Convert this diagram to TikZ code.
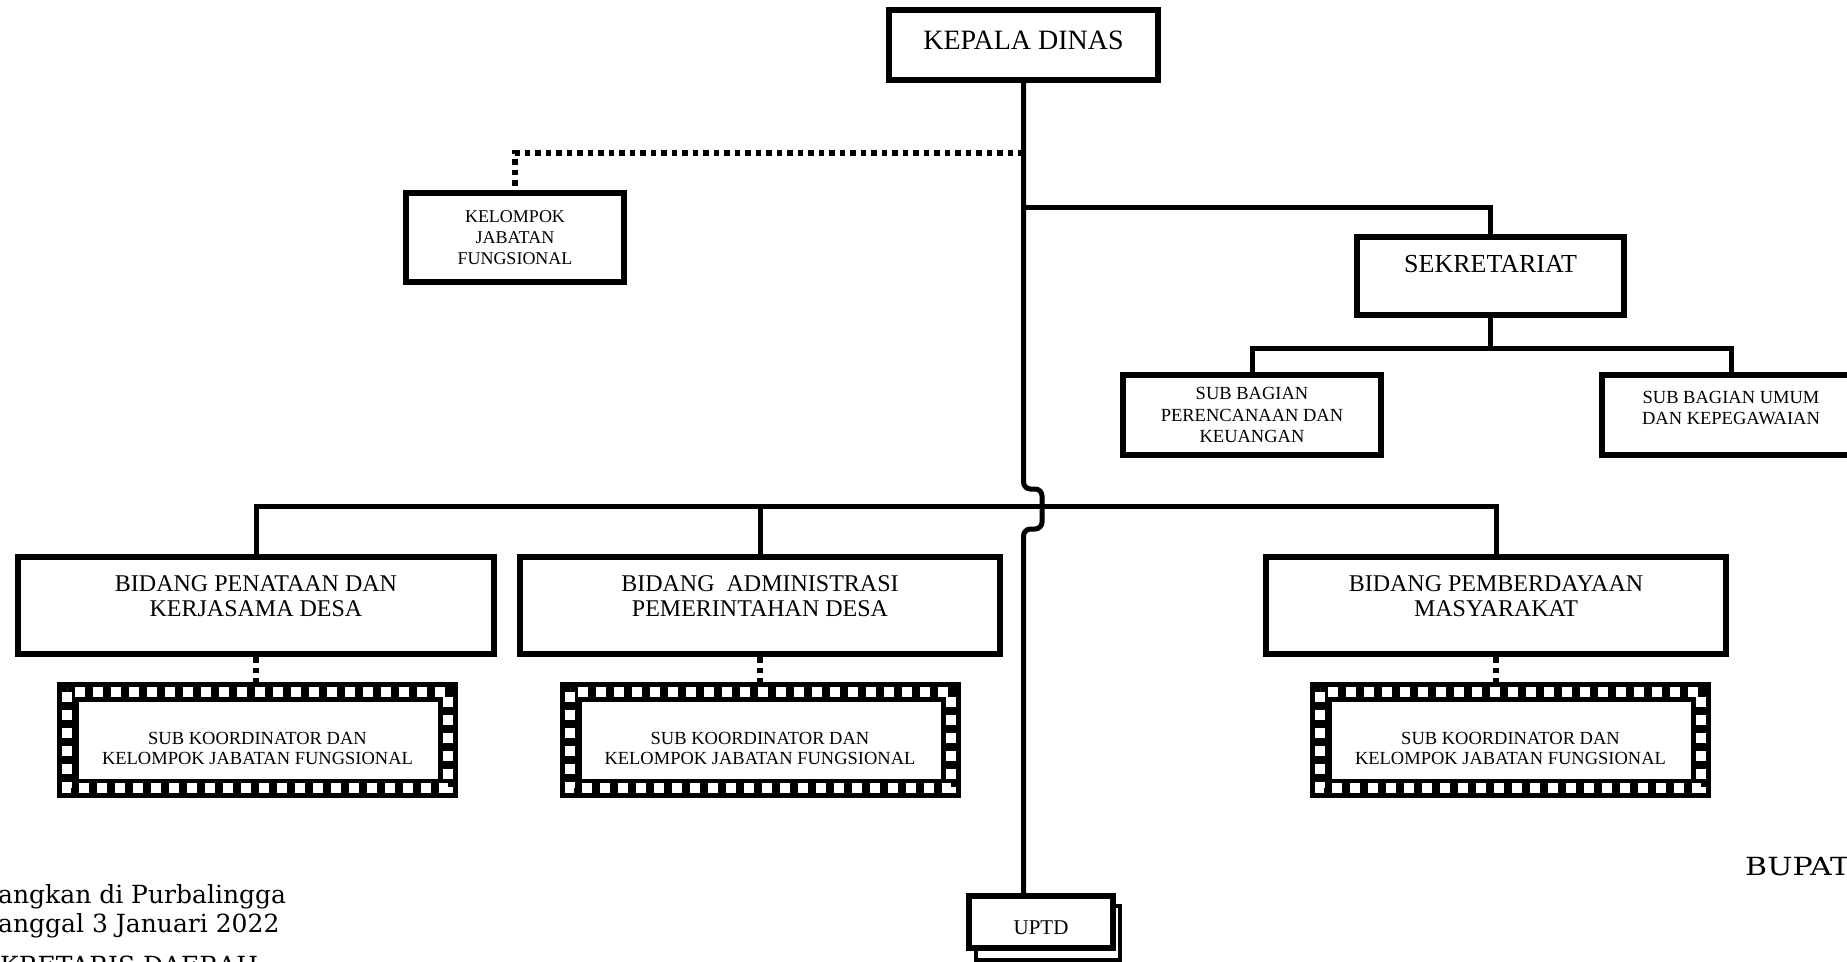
\documentclass[tikz,border=0pt]{standalone}
\usepackage{fontspec}
\setmainfont{Liberation Serif}
\newfontfamily\bkfont{DejaVu Serif}
\newfontfamily\bkwide[FakeStretch=1.2]{DejaVu Serif}
\newcommand\filmbox[4]{%
  \fill[black] ({#2-200.5},{#3-58}) rectangle ({#2+200.5},{#3+58});
  \draw[white, line width=10pt, dash pattern=on 10pt off 8pt] ({#2-190.5},{#3-48}) rectangle ({#2+190.5},{#3+48});
  \fill[white] ({#2-178.5},{#3-38}) rectangle ({#2+180.5},{#3+39});
  \node[minimum width=401pt, minimum height=116pt, inner sep=0pt] (#1) at (#2,#3) {};
  \node[filmtext] (#1t) at (#2,{#3+8}) {#4};
}
\begin{document}
\begin{tikzpicture}[x=1pt, y=-1pt,
  box/.style={draw, line width=6pt, fill=white, inner sep=0pt, align=center},
  conn/.style={line width=5pt},
  dotline/.style={line width=5.5pt, dash pattern=on 5.5pt off 5pt},
  filmtext/.style={align=center, inner sep=0pt, font=\fontsize{18.5}{20}\selectfont},
  small/.style={font=\fontsize{18.5}{21.5}\selectfont},
  mid/.style={font=\fontsize{24}{25.5}\selectfont},
  sig/.style={anchor=base west, inner sep=0pt, font=\bkfont\fontsize{25}{29}\selectfont}]
\useasboundingbox (0,0) rectangle (1847,961);
\clip (0,0) rectangle (1847,961);
\fill[white] (0,0) rectangle (1847,961);

% top
\node[box, minimum width=269pt, minimum height=70pt, text depth=10pt,
      font=\fontsize{28}{30}\selectfont] (kepala) at (1023.5,45) {KEPALA DINAS};
\node[box, minimum width=218pt, minimum height=89pt,
      font=\fontsize{18}{21}\selectfont] (kjf) at (515,237.5) {KELOMPOK\\JABATAN\\FUNGSIONAL};
\node[box, minimum width=267pt, minimum height=78pt, text depth=24pt,
      font=\fontsize{26}{28}\selectfont] (sekr) at (1490.5,276) {SEKRETARIAT};
\node[box, small, minimum width=258pt, minimum height=80pt] (sub1) at (1252,415)
      {SUB BAGIAN\\PERENCANAAN DAN\\KEUANGAN};
\node[box, small, minimum width=258pt, minimum height=80pt, text depth=14pt] (sub2) at (1731,415)
      {SUB BAGIAN UMUM\\DAN KEPEGAWAIAN};

% bidang
\node[box, mid, minimum width=476pt, minimum height=97pt, text depth=19pt] (bid1) at (256,605.5)
      {BIDANG PENATAAN DAN\\KERJASAMA DESA};
\node[box, mid, minimum width=480pt, minimum height=97pt, text depth=19pt] (bid2) at (760,605.5)
      {BIDANG \ ADMINISTRASI\\PEMERINTAHAN DESA};
\node[box, mid, minimum width=460pt, minimum height=97pt, text depth=19pt] (bid3) at (1496,605.5)
      {BIDANG PEMBERDAYAAN\\MASYARAKAT};

% film boxes
\filmbox{f1}{257.5}{740}{SUB KOORDINATOR DAN\\KELOMPOK JABATAN FUNGSIONAL}
\filmbox{f2}{760}{740}{SUB KOORDINATOR DAN\\KELOMPOK JABATAN FUNGSIONAL}
\filmbox{f3}{1510.5}{740}{SUB KOORDINATOR DAN\\KELOMPOK JABATAN FUNGSIONAL}

% UPTD
\draw[line width=4pt, fill=white] (976,906) rectangle (1120,960);
\node[box, minimum width=144pt, minimum height=52pt, text height=26pt,
      font=\fontsize{21}{23}\selectfont] (uptd) at (1041,922) {UPTD};

% connectors
\draw[conn, rounded corners=7pt] (kepala.south) |- (1042,489) |- (1023.5,529)
      -- (kepala.south |- uptd.north);
\draw[dotline] (kepala.south |- 0,153) -| (kjf.north);
\draw[conn] (kepala.south |- 0,207) -| (sekr.north);
\draw[conn] (sekr.south) -- ++(0,30) coordinate (sj) -| (sub1.north);
\draw[conn] (sj) -| (sub2.north);
\draw[conn] (bid1.north) -- ++(0,-48) coordinate (bj) -| (bid3.north);
\draw[conn] (bid2.north) -- (bid2.north |- bj);
\draw[dotline] (bid1.south) -- (bid1.south |- f1.north);
\draw[dotline] (bid2.south) -- (bid2.south |- f2.north);
\draw[dotline] (bid3.south) -- (bid3.south |- f3.north);

% signature texts
\node[sig] (t1) at (-2,903) {angkan di Purbalingga};
\node[sig] (t2) at (-2,932) {anggal 3 Januari 2022};
\node[sig] (t3) at (0,974) {KRETARIS DAERAH};
\node[sig, font=\bkwide\fontsize{25}{29}\selectfont] (t4) at (1745,875) {BUPATI};
\end{tikzpicture}
\end{document}
